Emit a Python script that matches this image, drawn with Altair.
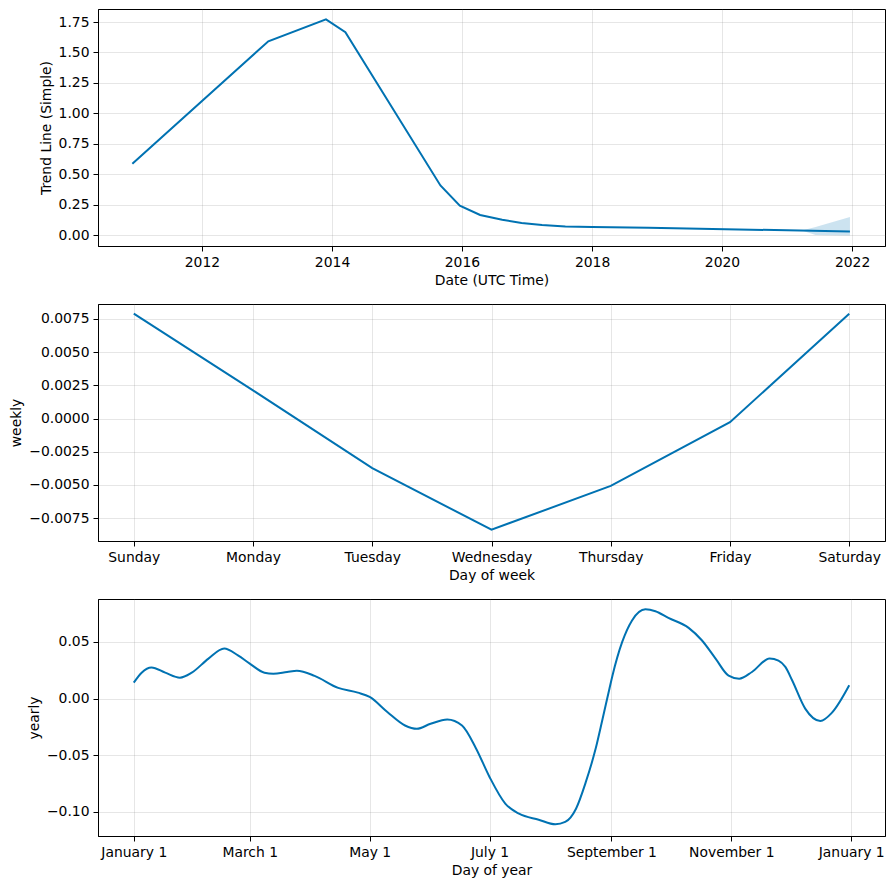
import altair as alt
import pandas as pd

# ---- Trend panel data ----
trend_dates = ["2010-12-06", "2013-01-08", "2013-11-28", "2014-03-17", "2015-09-02",
               "2015-12-20", "2016-04-12", "2016-08-14", "2016-12-01", "2017-03-26",
               "2017-08-04", "2018-01-01", "2018-11-14", "2021-12-20"]
trend_values = [0.585, 1.592, 1.772, 1.667, 0.407,
                0.242, 0.165, 0.126, 0.099, 0.082,
                0.071, 0.066, 0.059, 0.030]
band_dates = ["2021-03-25", "2021-06-10", "2021-12-20"]
band_lower = [0.037, 0.0, -0.003]
band_upper = [0.037, 0.066, 0.148]
trend_ticks = [2012, 2014, 2016, 2018, 2020, 2022]
trend_yticks = [0.0, 0.25, 0.5, 0.75, 1.0, 1.25, 1.5, 1.75]

# ---- Weekly panel data ----
week_days = ["Sunday", "Monday", "Tuesday", "Wednesday", "Thursday", "Friday", "Saturday"]
week_values = [0.0079, 0.00212, -0.00374, -0.00838, -0.00508, -0.00028, 0.0079]
week_yticks = [-0.0075, -0.005, -0.0025, 0.0, 0.0025, 0.005, 0.0075]

# ---- Yearly panel data ----
year_days = [0, 4, 9, 16, 23.5, 29.5, 38, 46, 53, 59, 66.5, 71, 78, 83, 92, 104, 114, 120,
             129, 138, 144, 151, 159.5, 167, 174, 181, 189, 196, 206, 214.5, 219.5, 225,
             230, 235, 238.5, 242, 243.5, 248.5, 253.5, 260.3, 265.4, 272, 282.3, 289, 296,
             302.6, 308, 314.5, 323.5, 328, 331.5, 335, 341.6, 349.3, 355.2, 364]
year_values = [0.0141, 0.0229, 0.0275, 0.0229, 0.0185, 0.0229, 0.0353, 0.0442, 0.0382,
               0.0309, 0.0229, 0.0220, 0.0235, 0.0245, 0.0201, 0.0095, 0.0053, 0.0015,
               -0.0118, -0.0237, -0.0266, -0.0222, -0.0184, -0.0238, -0.0435, -0.0691,
               -0.0926, -0.1015, -0.1068, -0.1109, -0.1088, -0.0971, -0.0735, -0.0441,
               -0.0180, 0.0088, 0.020, 0.050, 0.069, 0.0788, 0.0771, 0.0712, 0.0624,
               0.0515, 0.0353, 0.0203, 0.0176, 0.0235, 0.0355, 0.0335, 0.028, 0.016,
               -0.0088, -0.0197, -0.0124, 0.0118]
year_tick_days = [0, 59, 120, 181, 243, 304, 365]
year_tick_labels = ["January 1", "March 1", "May 1", "July 1", "September 1", "November 1", "January 1"]
year_yticks = [-0.10, -0.05, 0.0, 0.05]

LINE = "#0072B2"
W, H = 787, 237

trend_df = pd.DataFrame({"date": trend_dates, "trend": trend_values})
band_df = pd.DataFrame({"date": band_dates, "lower": band_lower, "upper": band_upper})
week_df = pd.DataFrame({"day": list(range(7)), "weekly": week_values})
year_df = pd.DataFrame({"day": year_days, "yearly": year_values})

xscale_t = alt.Scale(type="utc",
                     domain=[alt.DateTime(year=2010, month=5, date=27, utc=True),
                             alt.DateTime(year=2022, month=7, date=5, utc=True)])
xaxis_t = alt.Axis(title="Date (UTC Time)", format="%Y",
                   values=[alt.DateTime(year=y, month=1, date=1, utc=True) for y in trend_ticks])
yscale_t = alt.Scale(domain=[-0.09, 1.857], nice=False, zero=False)
yaxis_t = alt.Axis(title="Trend Line (Simple)", values=trend_yticks, format=".2f")

band = alt.Chart(band_df).mark_area(color=LINE, opacity=0.2).encode(
    x=alt.X("date:T", scale=xscale_t, axis=xaxis_t),
    y=alt.Y("lower:Q", scale=yscale_t, axis=yaxis_t),
    y2="upper:Q",
)
tline = alt.Chart(trend_df).mark_line(color=LINE, strokeWidth=2).encode(
    x=alt.X("date:T", scale=xscale_t, axis=xaxis_t),
    y=alt.Y("trend:Q", scale=yscale_t, axis=yaxis_t),
)
p1 = alt.layer(band, tline).properties(width=W, height=H)

week_names_js = "[" + ",".join("'" + d + "'" for d in week_days) + "]"
p2 = alt.Chart(week_df).mark_line(color=LINE, strokeWidth=2).encode(
    x=alt.X("day:Q", scale=alt.Scale(domain=[-0.3, 6.3], nice=False, zero=False),
            axis=alt.Axis(title="Day of week", values=list(range(7)),
                          labelExpr=week_names_js + "[datum.value]")),
    y=alt.Y("weekly:Q", scale=alt.Scale(domain=[-0.00923, 0.00863], nice=False, zero=False),
            axis=alt.Axis(title="weekly", values=week_yticks, format=".4f")),
).properties(width=W, height=H)

ylabels_js = "[" + ",".join("'" + d + "'" for d in year_tick_labels) + "]"
ydays_js = "[" + ",".join(str(d) for d in year_tick_days) + "]"
p3 = alt.Chart(year_df).mark_line(color=LINE, strokeWidth=2, interpolate="monotone").encode(
    x=alt.X("day:Q", scale=alt.Scale(domain=[-18.2, 382.2], nice=False, zero=False),
            axis=alt.Axis(title="Day of year", values=year_tick_days,
                          labelExpr=ylabels_js + "[indexof(" + ydays_js + ", datum.value)]")),
    y=alt.Y("yearly:Q", scale=alt.Scale(domain=[-0.1212, 0.0879], nice=False, zero=False),
            axis=alt.Axis(title="yearly", values=year_yticks, format=".2f")),
).properties(width=W, height=H)

chart = alt.vconcat(p1, p2, p3, spacing=14).properties(
    padding={"left": 1, "top": 0, "right": 0, "bottom": 0}
).configure_view(
    stroke="black", strokeWidth=1
).configure_axis(
    domainColor="black", domainWidth=1,
    tickColor="black", tickWidth=1, tickSize=5,
    labelColor="black", titleColor="black",
    labelFont="DejaVu Sans", titleFont="DejaVu Sans",
    labelFontSize=13.9, titleFontSize=13.9, titleFontWeight="normal",
    labelPadding=4, titlePadding=5,
    gridColor="#808080", gridOpacity=0.2, gridWidth=1,
    labelOverlap=False,
)

chart.save("out.html", embed_options={"renderer": "svg", "actions": False})
